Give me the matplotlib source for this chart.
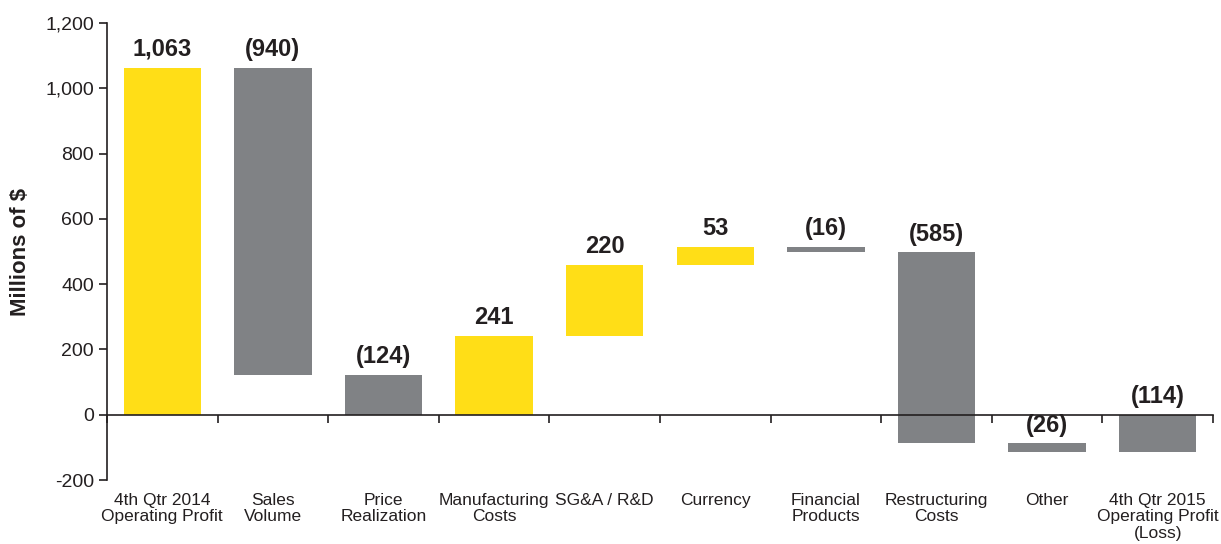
import numpy as np
import matplotlib
matplotlib.use("Agg")
import matplotlib.pyplot as plt
from matplotlib.ticker import FuncFormatter, FixedLocator

# waterfall data, millions of $
categories = ["4th Qtr 2014\nOperating Profit", "Sales\nVolume", "Price\nRealization",
              "Manufacturing\nCosts", "SG&A / R&D", "Currency", "Financial\nProducts",
              "Restructuring\nCosts", "Other", "4th Qtr 2015\nOperating Profit\n(Loss)"]
changes = [1063, -940, -124, 241, 220, 53, -16, -585, -26]
total_end = -114
labels = ["1,063", "(940)", "(124)", "241", "220", "53", "(16)", "(585)", "(26)", "(114)"]

yellow = "#FFDE17"
gray = "#808285"
plt.rcParams['font.family'] = ['Liberation Sans', 'DejaVu Sans']

# build bottoms / heights
cum = np.cumsum(changes)
starts = np.concatenate([[0], cum[:-1]])
bottoms = list(starts) + [0]
heights = list(changes) + [total_end]
colors = [yellow if h > 0 else gray for h in heights]

fig = plt.figure(figsize=(12.21, 5.44), dpi=100)
ax = fig.add_axes([0.0876, 0.1176, 0.9058, 0.8401])

x = np.arange(len(categories))
ax.bar(x, heights, bottom=bottoms, width=0.7, color=colors, zorder=2)

for xi, b, h, lab in zip(x, bottoms, heights, labels):
    top = max(b, b + h)
    ax.annotate(lab, (xi, top), xytext=(0, 5), textcoords="offset points",
                ha="center", va="bottom", fontsize=17, fontweight="bold", color="#231f20")

ax.set_xlim(-0.5, len(categories) - 0.5)
ax.set_ylim(-200, 1200)
ax.set_yticks(np.arange(-200, 1201, 200))
ax.yaxis.set_major_formatter(FuncFormatter(lambda v, p: f"{int(v):,}"))

for s in ["top", "right"]:
    ax.spines[s].set_visible(False)
ax.spines["bottom"].set_position(("data", 0))
for s in ["left", "bottom"]:
    ax.spines[s].set_color("#231f20")
    ax.spines[s].set_linewidth(1.2)

ax.set_xticks(x)
ax.set_xticklabels(categories, linespacing=1.15)
ax.xaxis.set_minor_locator(FixedLocator(np.arange(len(categories) + 1) - 0.5))
ax.tick_params(axis="x", which="major", length=0, pad=56, labelsize=12.5, colors="#231f20")
ax.tick_params(axis="x", which="minor", length=6, width=1.2, direction="out", color="#231f20")
ax.tick_params(axis="y", length=6, width=1.2, labelsize=14, colors="#231f20")

ax.set_ylabel("Millions of $", fontsize=16, fontweight="bold", color="#231f20", labelpad=10)

fig.savefig("out.png", dpi=100)
